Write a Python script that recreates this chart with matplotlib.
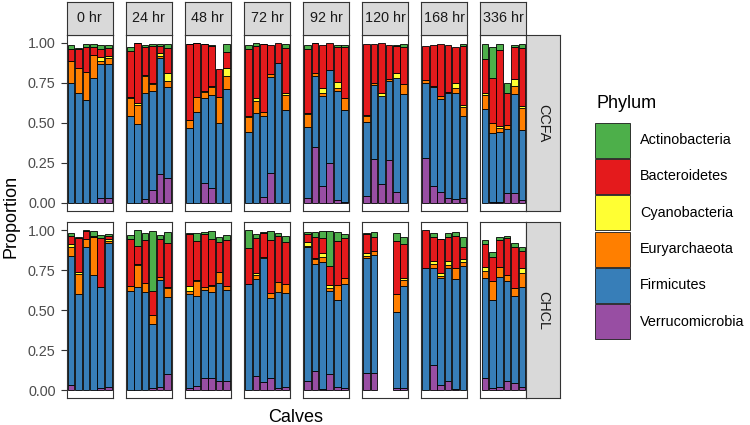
import numpy as np
import matplotlib
matplotlib.use("Agg")
import matplotlib.pyplot as plt
from matplotlib.patches import Rectangle

plt.rcParams["font.family"] = ["Liberation Sans", "DejaVu Sans"]

times = ["0 hr", "24 hr", "48 hr", "72 hr", "92 hr", "120 hr", "168 hr", "336 hr"]
groups = ["CCFA", "CHCL"]
phyla = ["Actinobacteria", "Bacteroidetes", "Cyanobacteria", "Euryarchaeota", "Firmicutes", "Verrucomicrobia"]
colors = ["#4DAF4A", "#E41A1C", "#FFFF33", "#FF7F00", "#377EB8", "#984EA3"]
calves = [1, 2, 3, 4, 5, 6]

# proportions, one list of 6 calves per time point
ccfa_verruco = [[0, 0, 0, 0, .027, .027], [0, 0, .021, .079, .179, .152], [0, 0, .125, .09, 0, 0],
                [0, 0, .033, .183, 0, 0], [.027, .346, .104, .25, .017, .006], [.042, .271, .115, .267, .069, 0],
                [.277, .104, .069, .027, .021, .027], [0, .006, .006, .058, .0625, .017]]
ccfa_firmicutes = [[.75, .6875, .642, .777, .8375, .8375], [.542, .49, .6625, .619, .723, .573],
                   [.465, .569, .527, .583, .5, .708], [.444, .558, .508, .604, .875, .579],
                   [.448, .446, .5625, .579, .681, .573], [.465, .465, .554, .496, .7125, .677],
                   [.473, .617, .579, .656, .667, .515], [.583, .427, .4375, .4, .617, .4375]]
ccfa_eury = [[.1375, .152, .177, .146, .023, .0375], [.11, .121, .108, .042, .017, .0375],
             [.052, .094, .0375, .048, .1625, .085], [.09, .077, .023, .02, 0, .094],
             [.077, .021, .017, 0, .017, .073], [.035, .015, 0, .008, 0, .0625],
             [.017, .008, .019, .01, .027, .054], [.09, .0625, .025, .027, .05, .14]]
ccfa_cyano = [[0, 0, 0, 0, .021, .015], [.01, .01, .006, .006, .015, .046], [0, 0, .01, .006, 0, .05],
              [.006, .017, 0, 0, 0, .01], [.01, 0, .035, 0, .042, 0], [.004, 0, .015, 0, .031, 0],
              [0, 0, 0, 0, .031, .015], [.01, 0, .0125, 0, .042, .01]]
ccfa_bacteroid = [[.075, .121, .156, .048, .052, .048], [.2875, .375, .177, .235, .046, .16],
                  [.473, .333, .29, .254, .171, .1], [.419, .329, .425, .18, .125, .281],
                  [.396, .183, .267, .167, .219, .319], [.444, .242, .3125, .215, .169, .235],
                  [.2125, .256, .325, .29, .229, .369], [.2125, .285, .473, .198, .204, .36]]
ccfa_actino = [[.025, .004, .015, .019, .025, .023], [.025, .004, .008, .0125, .0125, .023],
               [.004, .004, .004, .004, 0, .048], [.025, .015, .004, 0, 0, .025],
               [.027, .004, 0, 0, .01, .015], [0, 0, 0, 0, .004, .015],
               [0, 0, 0, 0, 0, .0125], [.096, .19, .035, .067, .01, .027]]

chcl_verruco = [[.031, 0, 0, 0, .01, .017], [0, 0, 0, .01, .017, .098], [.01, .027, .077, .077, .056, .056],
                [0, .0875, .052, .073, .015, .021], [.056, .121, .006, .098, .021, .015],
                [.108, .108, None, None, .01, .01], [0, .156, .031, .056, .004, 0],
                [.073, .01, .021, .058, .046, .021]]
chcl_firmicutes = [[.806, .6, .892, .719, .631, .9], [.621, .646, .61, .4, .671, .485],
                   [.5875, .56, .548, .5375, .61, .569], [.66, .604, .771, .504, .6, .583],
                   [.835, .665, .796, .521, .542, .646], [.715, .735, None, None, .479, .64],
                   [.765, .608, .667, .704, .6875, .777], [.625, .552, .6875, .625, .542, .625]]
chcl_eury = [[.058, .125, .052, .235, 0, .017], [.031, .135, .06, .058, .021, .052],
             [.021, .094, .021, .0375, .073, .025], [0, .027, 0, .027, .0625, .058],
             [.01, .031, .027, .017, .094, .042], [.015, .027, None, None, .11, .0375],
             [0, .021, .017, .021, .073, .021], [.046, .119, .0625, .035, .048, .083]]
chcl_cyano = [[.015, .015, 0, 0, 0, .01], [0, .004, 0, 0, 0, .01], [.033, .006, 0, .006, 0, 0],
              [0, .01, .01, 0, 0, 0], [.025, .01, .025, .021, 0, 0], [.017, 0, None, None, 0, .01],
              [0, .021, .015, .025, 0, .019], [.027, 0, 0, 0, 0, .031]]
chcl_bacteroid = [[.052, .208, .05, .01, .31, .019], [.29, .117, .267, .15, .235, .275],
                  [.323, .246, .329, .285, .183, .2875], [.225, .223, .146, .333, .285, .26],
                  [.048, .127, .094, .121, .277, .246], [.121, .0875, None, None, .333, .2125],
                  [.235, .148, .2125, .152, .198, .075], [.14, .152, .167, .229, .256, .1104]]
chcl_actino = [[.017, .01, .004, .031, .017, .0125], [.027, .098, .042, .375, .025, .065],
               [.004, .046, .015, .048, .035, .031], [.115, .021, .01, .056, .017, .042],
               [.015, .031, .046, .217, .052, .027], [.004, .031, None, None, .052, .048],
               [0, .025, .004, .021, .023, .067], [.027, .027, .017, .017, .025, .021]]

# stacked bottom -> top: Verrucomicrobia ... Actinobacteria
ccfa = [ccfa_verruco, ccfa_firmicutes, ccfa_eury, ccfa_cyano, ccfa_bacteroid, ccfa_actino]
chcl = [chcl_verruco, chcl_firmicutes, chcl_eury, chcl_cyano, chcl_bacteroid, chcl_actino]
stack_colors = colors[::-1]

W, H = 750, 425
fig = plt.figure(figsize=(W / 100, H / 100), dpi=100)


def px_axes(left, top, w, h):
    return fig.add_axes([left / W, 1 - (top + h) / H, w / W, h / H])


dark = "#333333"
left0, step, pw = 66.7, 59.1, 46
row_tops = [34.7, 222.0]
ph = 176

for r, grp in enumerate([ccfa, chcl]):
    for c, t in enumerate(times):
        ax = px_axes(left0 + c * step, row_tops[r], pw, ph)
        x = np.array(calves, dtype=float)
        bottom = np.zeros(6)
        for k, series in enumerate(grp):
            vals = np.array(series[c], dtype=float)
            ok = np.isfinite(vals) & (vals > 0)
            ax.bar(x[ok], vals[ok], bottom=bottom[ok], width=0.9, color=stack_colors[k],
                   edgecolor="black", linewidth=0.6)
            bottom = bottom + np.nan_to_num(vals)
        ax.set_xlim(0.4, 6.6)
        ax.set_ylim(-0.05, 1.05)
        ax.set_xticks([])
        for s in ax.spines.values():
            s.set_color(dark)
            s.set_linewidth(0.8)
        if c == 0:
            ax.set_yticks([0, 0.25, 0.5, 0.75, 1.0])
            ax.set_yticklabels(["0.00", "0.25", "0.50", "0.75", "1.00"])
            ax.tick_params(axis="y", length=4, width=0.8, color=dark, pad=4,
                           labelsize=10.4, labelcolor="#4D4D4D")
        else:
            ax.set_yticks([])
        if r == 0:
            sax = px_axes(left0 + c * step, 1.5, pw, row_tops[0] - 1.5)
            sax.set_facecolor("#D9D9D9")
            sax.set_xticks([])
            sax.set_yticks([])
            for s in sax.spines.values():
                s.set_color(dark)
                s.set_linewidth(0.8)
            sax.text(0.5, 0.5, t, ha="center", va="center", fontsize=10.4, color="#1A1A1A",
                     transform=sax.transAxes)
    right = left0 + 7 * step + pw
    sax = px_axes(right, row_tops[r], 560 - right, ph)
    sax.set_facecolor("#D9D9D9")
    sax.set_xticks([])
    sax.set_yticks([])
    for s in sax.spines.values():
        s.set_color(dark)
        s.set_linewidth(0.8)
    sax.text(0.5, 0.5, groups[r], ha="center", va="center", rotation=-90, fontsize=10.4,
             color="#1A1A1A", transform=sax.transAxes)

fig.text(11 / W, 1 - 216 / H, "Proportion", rotation=90, ha="center", va="center", fontsize=13)
fig.text(296 / W, 1 - 417 / H, "Calves", ha="center", va="center", fontsize=13)

# legend
fig.text(596 / W, 1 - 103 / H, "Phylum", ha="left", va="center", fontsize=13)
for i, (name, col) in enumerate(zip(phyla, colors)):
    top = 122.7 + 36.3 * i
    fig.add_artist(Rectangle((595 / W, 1 - (top + 35) / H), 35 / W, 35 / H, transform=fig.transFigure,
                             facecolor=col, edgecolor="#1A1A1A", linewidth=0.6))
    fig.text(640 / W, 1 - (top + 17.5) / H, name, ha="left", va="center", fontsize=10.4)

fig.savefig("out.png", dpi=100)
